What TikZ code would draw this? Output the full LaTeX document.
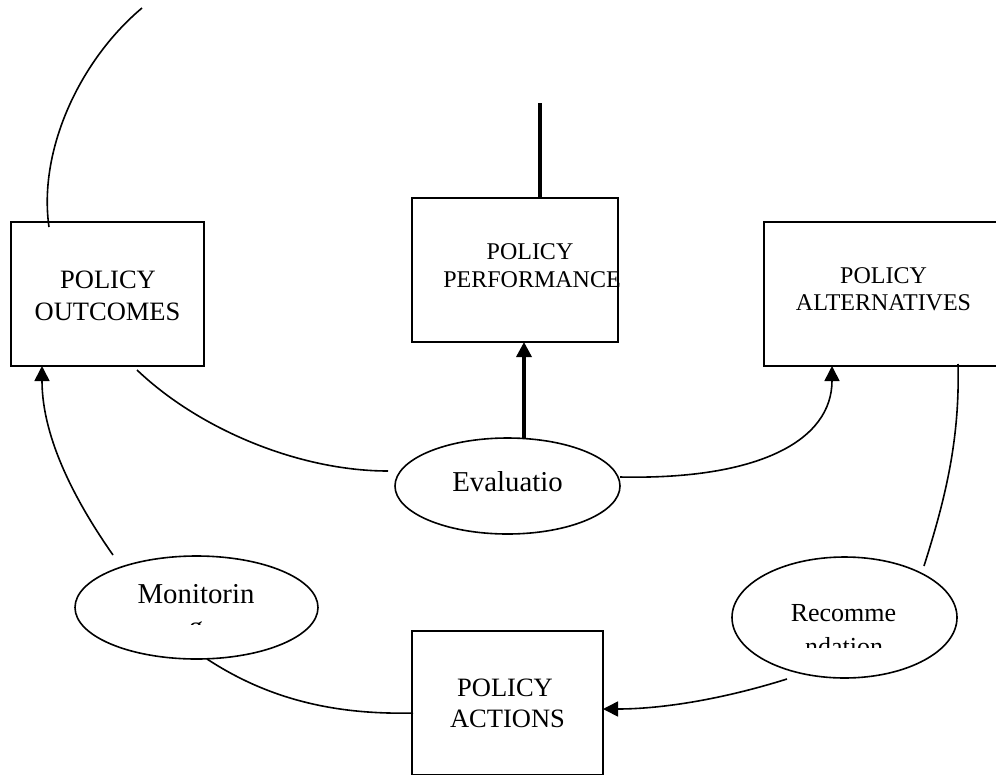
\documentclass[tikz,border=0pt]{standalone}
\usepackage{fontspec}
\setmainfont{Liberation Serif}
\usetikzlibrary{arrows.meta,shapes.geometric,calc}
\tikzset{
  box/.style={draw, line width=1.8pt, rectangle, minimum height=144pt, inner sep=0pt, outer sep=0pt},
  bubble/.style={draw, line width=1.6pt, ellipse, inner sep=0pt, outer sep=0pt},
  word/.style={anchor=base, inner sep=0pt, outer sep=0pt},
  fbig/.style={font=\fontsize{26.5}{32}\selectfont},
  fmid/.style={font=\fontsize{24}{28}\selectfont},
  foval/.style={font=\fontsize{28.8}{33}\selectfont},
  frec/.style={font=\fontsize{26}{31}\selectfont},
  link/.style={line width=1.6pt},
  heavy/.style={line width=3.3pt},
  tip/.style={-{Triangle[length=15pt,width=15pt]}},
}
\begin{document}
\begin{tikzpicture}[x=1pt,y=-1pt]
\useasboundingbox (0,0) rectangle (996,774);
\clip (0,0) rectangle (996,774);

% boxes
\node[box, minimum width=193pt] (out)  at (107.5,294) {};
\node[box, minimum width=206pt] (perf) at (515,270) {};
\node[box, minimum width=238pt] (alt)  at (883,294) {};
\node[box, minimum width=191pt] (act)  at (507.5,703) {};

% box labels
\node[word,fbig] (out1)  at (108,288) {POLICY};
\node[word,fbig] (out2)  at (107.5,320) {OUTCOMES};
\node[word,fmid] (perf1) at (530,259) {POLICY};
\node[word,fmid] (perf2) at (532,287) {PERFORMANCE};
\node[word,fmid] (alt1)  at (883.5,283) {POLICY};
\node[word,fmid] (alt2)  at (883.5,310) {ALTERNATIVES};
\node[word,fbig] (act1)  at (505,696) {POLICY};
\node[word,fbig] (act2)  at (507.5,727) {ACTIONS};

% process ellipses
\node[bubble, minimum width=225pt, minimum height=96pt]  (eval) at (507.5,486) {};
\node[bubble, minimum width=243pt, minimum height=103pt] (mon)  at (196.5,607.5) {};
\node[bubble, minimum width=225pt, minimum height=121pt] (rec)  at (844.5,617.5) {};

% ellipse labels, cut off by their text frames
\node[word,foval] (eval1) at (507.5,491) {Evaluatio};
\begin{scope}
  \clip (90,570) rectangle (300,624);
  \node[word,foval] (mon1) at (196,603) {Monitorin};
  \node[word,foval] (mon2) at (196,636) {g};
\end{scope}
\begin{scope}
  \clip (750,590) rectangle (940,647);
  \node[word,frec] (rec1) at (843.5,621) {Recomme};
  \node[word,frec] (rec2) at (844,655) {ndation};
\end{scope}

% free ends
\coordinate (topfree)  at (142,8);
\coordinate (perffree) at (540,103);

% connectors
\draw[link] ($(out.north west)+(38,5)$) .. controls (38,150) and (80,60) .. (topfree);
\draw[heavy] ($(perf.north)+(25,0)$) -- (perffree);
\draw[heavy,tip] ($(eval.north)+(16.5,0.5)$) -- ($(perf.south)+(9,0)$);
\draw[link] ($(out.south)+(29.5,4)$) .. controls (200,430) and (300,471) .. ($(eval.west)+(-7,-15)$);
\draw[link,tip] ($(eval.east)+(0,-9)$) .. controls (760,480) and (832,440) .. ($(alt.south west)+(68,0)$);
\draw[link] ($(alt.south west)+(194,-2)$) .. controls (960,440) and (945,500) .. ($(rec.center)+(79.5,-51.5)$);
\draw[link,tip] ($(rec.center)+(-57.5,61.5)$) .. controls (720,700) and (660,709) .. ($(act.east)+(0,6)$);
\draw[link] ($(mon.south)+(10.5,0)$) .. controls (265,697) and (330,715) .. ($(act.west)+(1,10)$);
\draw[link,tip] ($(mon.center)+(-83.5,-52.5)$) .. controls (78,505) and (42,440) .. ($(out.south west)+(31,0)$);
\end{tikzpicture}
\end{document}
